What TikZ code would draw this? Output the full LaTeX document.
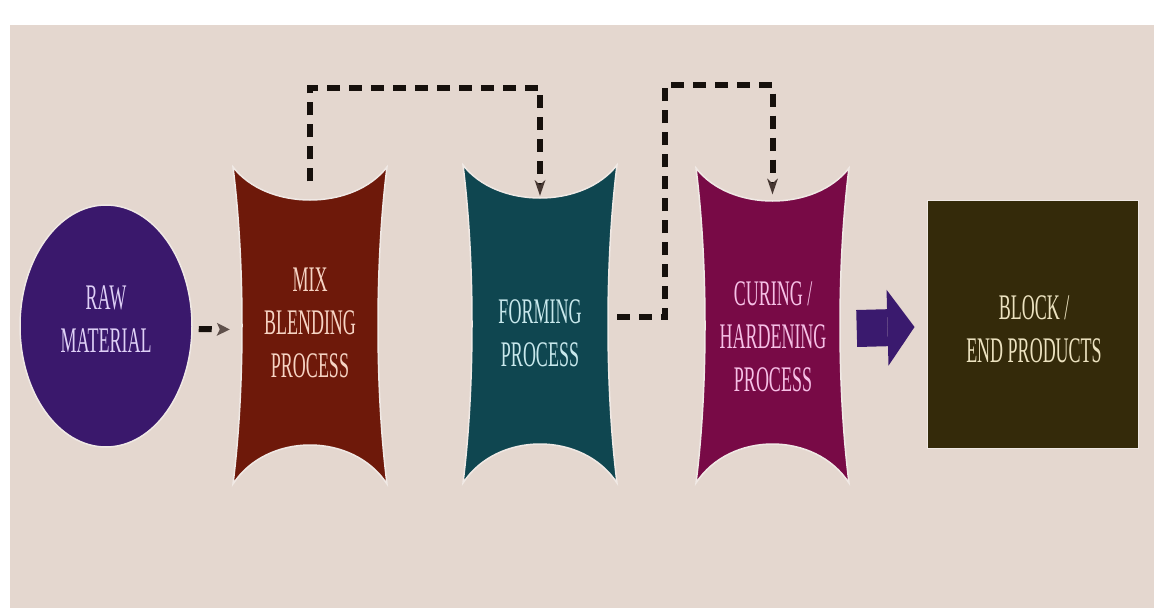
\documentclass[tikz,border=0pt]{standalone}
\usepackage{fontspec}
\newfontfamily\cond[FakeStretch=0.5]{Liberation Serif}
\usetikzlibrary{arrows.meta,shapes.geometric}
\definecolor{bgc}{RGB}{228,215,207}
\definecolor{rawc}{RGB}{58,24,108}
\definecolor{mixc}{RGB}{110,25,10}
\definecolor{formc}{RGB}{15,70,80}
\definecolor{curec}{RGB}{120,10,70}
\definecolor{blockc}{RGB}{52,42,10}
\definecolor{bigarr}{RGB}{58,26,110}
\definecolor{dashc}{RGB}{22,16,12}
\definecolor{tipc}{RGB}{70,55,50}
\definecolor{tipg}{RGB}{95,80,75}
\definecolor{rawt}{RGB}{222,208,246}
\definecolor{mixt}{RGB}{246,212,196}
\definecolor{formt}{RGB}{200,232,236}
\definecolor{curet}{RGB}{246,192,230}
\definecolor{blockt}{RGB}{236,226,192}
\colorlet{halo}{white!45!bgc}
\newcommand\xshape[5]{%
  \path[fill=#5, draw=halo, line width=1.5pt]
  (#1,#2) .. controls ({#1+0.22*(#3-#1)},{#2+44}) and ({#3-0.22*(#3-#1)},{#2+44}) .. (#3,#2)
  .. controls ({#3-12},{#2+0.3*(#4-#2)}) and ({#3-12},{#4-0.3*(#4-#2)}) .. (#3,#4)
  .. controls ({#3-0.22*(#3-#1)},{#4-52}) and ({#1+0.22*(#3-#1)},{#4-52}) .. (#1,#4)
  .. controls ({#1+12},{#4-0.3*(#4-#2)}) and ({#1+12},{#2+0.3*(#4-#2)}) .. (#1,#2) -- cycle;}
\begin{document}
\begin{tikzpicture}[x=1pt,y=-1pt,
  procbox/.style={rectangle, minimum width=154pt, minimum height=316pt, inner sep=0pt},
  lbl/.style={font=\cond\fontsize{36}{43}\selectfont, align=center, inner sep=0pt},
  flow/.style={draw=dashc, line width=6pt, dash pattern=on 13pt off 9pt,
    -{Stealth[length=16pt,width=11pt,line width=0pt,color=tipc]}},
  bigflow/.style={draw=bigarr, line width=37pt,
    -{Triangle[length=27pt,width=76pt,line width=0pt]}}]
\useasboundingbox (0,0) rectangle (1154,608);
\fill[white] (0,0) rectangle (1154,608);
\fill[bgc] (10,25) rectangle (1154,608);
% shapes
\xshape{233}{167}{387}{484}{mixc}
\xshape{463}{165}{617}{483}{formc}
\xshape{696}{168}{849}{483}{curec}
\node[ellipse, fill=rawc, draw=halo, line width=1.5pt, minimum width=172pt, minimum height=242pt, inner sep=0pt] (raw) at (106,326) {};
\node[procbox] (mix) at (310,325.5) {};
\node[procbox] (forming) at (540,324) {};
\node[procbox] (curing) at (772.5,325.5) {};
\node[rectangle, fill=blockc, draw=halo, line width=1pt, minimum width=211pt, minimum height=248pt, inner sep=0pt] (block) at (1032.5,324) {};
% connectors
\draw[flow, -{Stealth[length=13pt,width=13pt,line width=0pt,inset=3pt,color=tipg]}, shorten <=6pt, shorten >=3pt]
  ([yshift=-3pt]raw.east) -- ([yshift=-4pt]mix.west);
\draw[flow] ([yshift=-14pt]mix.north) -- ++(0,-93) -| ([yshift=-30pt]forming.north);
\draw[flow] ([yshift=7pt]forming.east) -| ++(48,-232) -| ([yshift=-27pt]curing.north);
\draw[bigflow] ([shift={(7,3)}]curing.east) -- ([shift={(-12,3)}]block.west);
% labels
\node[lbl, text=rawt] (rawtxt) at (106,319.5) {RAW\\MATERIAL};
\node[lbl, text=mixt] (mixtxt) at (310,323) {MIX\\BLENDING\\PROCESS};
\node[lbl, text=formt] (formtxt) at (540,333) {FORMING\\PROCESS};
\node[lbl, text=curet] (curetxt) at (773,337) {CURING /\\HARDENING\\PROCESS};
\node[lbl, text=blockt] (blocktxt) at (1034,329.5) {BLOCK /\\END PRODUCTS};
\end{tikzpicture}
\end{document}
